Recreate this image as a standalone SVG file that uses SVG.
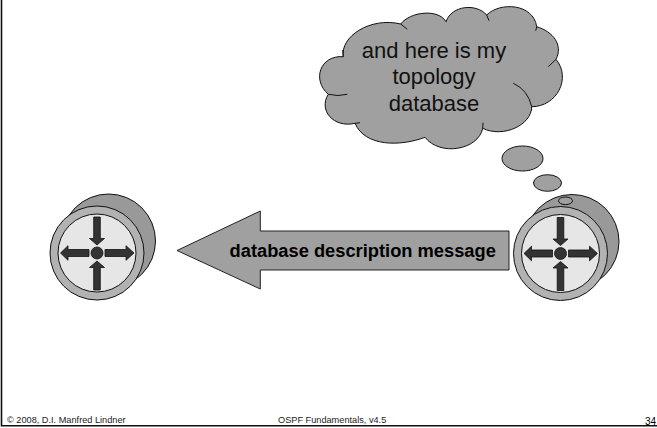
<svg xmlns="http://www.w3.org/2000/svg" width="657" height="428" viewBox="0 0 657 428">
<style>
.o{stroke:#111;stroke-width:1}
.g{fill:#a0a0a0}
.d{fill:#333;stroke:#111;stroke-width:.8}
text{font-family:"Liberation Sans",Arial,sans-serif;fill:#000}
.f{font-size:9.200px;fill:#222}
.c{font-size:22px;text-anchor:middle;fill:#111}
</style>
<defs>
<g id="rt">
<circle class="o" cx="11.500" cy="-12" r="47" fill="#999"/>
<circle class="o" cx="0" cy="0" r="47" fill="#b2b2b2"/>
<circle class="o" cx="0" cy="0" r="39" fill="#e6e6e6"/>
<circle class="d" cx="0" cy="0" r="6"/>
<path class="d" d="M-3.300-36H3.300V-14.500H7.500L0-8-7.500-14.500H-3.300Z"/>
<path class="d" d="M-3.300 37H3.300V14.500H7.500L0 8-7.500 14.500H-3.300Z"/>
<path class="d" d="M-36.500 0-29-7.300V-3.500H-8V3.500H-29V7.300Z"/>
<path class="d" d="M37 0 29-7.300V-3.500H8V3.500H29V7.300Z"/>
</g>
</defs>
<g id="frame"><path d="M1.500 0V425.800H657" fill="none" stroke="#111" stroke-width="1.600"/></g>
<g id="cloud">
<path class="o g" d="M343.300 56.700C340 36.700 370 16.700 400.700 24C410 11.700 438.300 8.300 446 21.700C451.700 5 476.700 3.300 486.700 15C500 1.700 533.300 3.300 536.700 26.700C553.300 31.700 563.300 45 556 59.300C571.700 78.300 556.700 106.700 531.700 106.700C531.700 125 503.300 138.300 482.700 128.300C478.300 150 440 156.700 425 137.300C400 146.700 365 146.700 355 123.300C333.300 128.300 318.300 110 328.300 94.300C311.700 80 320 55 343.300 56.700Z"/>
<path class="o" fill="none" d="M400.700 24 407.300 29.300M486.700 15 489 20.700M536.700 26.700 535.700 30.700M556 59.300 548.300 66.700M531.700 106.700Q528 90 513.300 83.300M482.700 128.300 483 122.700M355 123.300 360 122.700M328.300 94.300Q338 96.700 347.300 94.300M343.300 56.700 342.700 50"/>
<text class="c" x="434" y="57.500">and here is my</text>
<text class="c" x="434" y="84">topology</text>
<text class="c" x="434" y="110.700">database</text>
</g>
<g id="bubbles">
<ellipse class="o g" cx="522.500" cy="158.500" rx="20.500" ry="12.500"/>
<ellipse class="o g" cx="547.500" cy="183" rx="14" ry="8.300"/>
</g>
<g id="router-left"><use href="#rt" x="97" y="253"/></g>
<g id="router-right"><use href="#rt" x="560.500" y="253.500"/>
<ellipse class="o g" cx="565.500" cy="200.800" rx="7" ry="3.800"/></g>
<g id="connectors">
<path id="message" d="M177 250.500 260.300 211V231H509V270H260.300V289Z" fill="#a0a0a0" stroke="#222" stroke-width="1"/>
<text x="362.700" y="256.700" font-size="18.300" font-weight="bold" text-anchor="middle" fill="#111">database description message</text>
</g>
<g id="footer">
<text class="f" x="7" y="423">© 2008, D.I. Manfred Lindner</text>
<text class="f" x="278" y="423">OSPF Fundamentals, v4.5</text>
<text x="645" y="424.700" font-size="10" fill="#222">34</text>
</g>
</svg>
